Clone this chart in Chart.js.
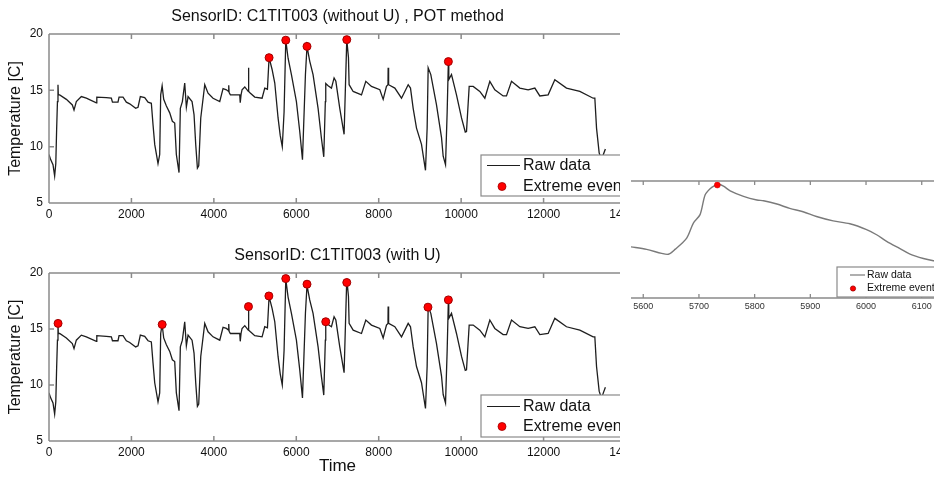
<!DOCTYPE html>
<html>
<head>
<meta charset="utf-8">
<script src="https://cdn.jsdelivr.net/npm/chart.js@4.4.1/dist/chart.umd.min.js"></script>
<style>
  body { margin: 0; background: #fff; width: 934px; height: 477px; position: relative; overflow: hidden; }
  .recorte { position: absolute; overflow: hidden; }
  canvas { position: absolute; left: 0; top: 0; }
</style>
</head>
<body>
<div class="recorte" style="left:0;top:0;width:620px;height:232px"><canvas id="graficoSemU" width="660" height="230"></canvas></div>
<div class="recorte" style="left:0;top:235px;width:620px;height:242px"><canvas id="graficoComU" width="660" height="242"></canvas></div>
<div class="recorte" style="left:625px;top:165px;width:309px;height:150px"><canvas id="graficoZoom" width="330" height="150"></canvas></div>
<script>
// --- dados brutos: tempo x temperatura ---
const tempo = [0, 40, 97, 137, 165, 185, 205, 218, 226, 259, 421, 566, 607, 663, 785, 906, 1149, 1160, 1391, 1513,
  1540, 1674, 1700, 1796, 1877, 1958, 2103, 2160, 2216, 2322, 2403, 2483, 2524, 2565, 2645, 2686, 2710, 2745, 2783, 2848,
  2929, 2993, 3050, 3090, 3155, 3187, 3236, 3293, 3333, 3374, 3471, 3519, 3560, 3601, 3633, 3682, 3779, 3859, 3980, 4143,
  4223, 4305, 4355, 4361, 4370, 4401, 4628, 4640, 4660, 4684, 4750, 4835, 4840, 4848, 4887, 4992, 5170, 5235, 5300, 5340,
  5413, 5478, 5558, 5610, 5660, 5704, 5745, 5801, 5882, 6003, 6084, 6150, 6222, 6260, 6326, 6407, 6529, 6610, 6667, 6705,
  6715, 6772, 6853, 6917, 6960, 7055, 7160, 7225, 7266, 7282, 7380, 7582, 7687, 7824, 8027, 8108, 8188, 8225, 8229, 8240,
  8391, 8553, 8715, 8771, 8836, 8917, 9038, 9135, 9175, 9200, 9264, 9402, 9524, 9564, 9621, 9661, 9690, 9700, 9766, 9887,
  10009, 10100, 10130, 10195, 10292, 10453, 10575, 10696, 10817, 11019, 11100, 11222, 11424, 11626, 11788, 11909, 12111, 12273, 12556, 12880,
  13203, 13244, 13285, 13349, 13406, 13450, 13500];
const temperatura = [9.3, 8.85, 8.4, 7.4, 8.5, 11.5, 14.0, 15.5, 14.6, 14.6, 14.2, 13.7, 13.25, 14.0, 14.45, 14.3, 13.9, 14.4, 14.35, 14.3,
  13.95, 13.95, 14.4, 14.4, 13.95, 13.8, 13.4, 13.5, 14.45, 14.35, 13.95, 13.85, 11.95, 10.2, 8.5, 9.3, 14.6, 15.4, 14.2, 13.6,
  13.0, 12.25, 12.1, 9.3, 7.7, 13.4, 14.0, 15.65, 13.5, 14.45, 14.0, 12.85, 10.2, 8.1, 8.3, 12.55, 15.5, 14.75, 14.3, 14.0,
  15.15, 15.05, 14.9, 15.45, 14.8, 14.6, 14.6, 13.9, 14.6, 15.05, 15.3, 14.9, 17.0, 14.9, 14.75, 14.4, 14.3, 15.2, 15.1, 17.9,
  16.85, 15.65, 12.55, 11.0, 10.0, 13.1, 19.45, 17.85, 16.4, 14.0, 11.35, 8.85, 16.4, 18.9, 17.6, 16.4, 13.4, 10.75, 9.1, 14.0,
  15.6, 15.4, 15.2, 16.1, 15.8, 13.4, 11.1, 19.5, 17.9, 15.5, 14.9, 14.6, 15.8, 15.35, 15.05, 14.2, 15.35, 15.5, 17.0, 15.5,
  15.2, 14.3, 15.5, 15.2, 13.4, 11.65, 10.2, 7.9, 11.65, 17.0, 16.4, 13.7, 10.8, 9.15, 8.4, 13.1, 17.55, 15.95, 16.4, 14.6,
  12.55, 11.3, 11.35, 15.35, 15.35, 14.9, 14.3, 15.8, 15.05, 14.5, 14.5, 15.8, 15.2, 15.05, 15.2, 14.5, 14.6, 15.95, 15.2, 14.9,
  14.3, 14.3, 11.65, 9.45, 8.8, 9.3, 9.8];

// --- eventos extremos (sem U / com U) ---
const tempoEventosSemU = [5340, 5745, 6260, 7225, 9690];
const tempEventosSemU = [17.9, 19.45, 18.9, 19.5, 17.55];
const tempoEventosComU = [220, 2746, 4840, 5335, 5745, 6260, 6715, 7225, 9195, 9690];
const tempEventosComU = [15.5, 15.4, 17.0, 17.95, 19.5, 19.0, 15.65, 19.15, 16.95, 17.6];

// --- detalhe ampliado (5580 a 6130) ---
const tempoZoom = [5577, 5606, 5633, 5645, 5657, 5678, 5690, 5702, 5711, 5720, 5729, 5735, 5744, 5756, 5780, 5804, 5816, 5840, 5863, 5887,
  5911, 5941, 5971, 6001, 6019, 6037, 6061, 6079, 6103, 6121, 6135];
const tempZoom = [11.0, 10.65, 10.1, 9.98, 10.65, 12.2, 14.25, 15.4, 18.1, 18.95, 19.4, 19.55, 19.3, 18.65, 17.9, 17.4, 17.3, 16.85, 16.25, 15.8,
  15.15, 14.55, 14.15, 13.35, 12.65, 11.75, 10.75, 10.0, 9.4, 9.1, 8.95];
const tempoEventoZoom = [5733];
const tempEventoZoom = [19.45];

const rotulosLegenda = ['Raw data', 'Extreme event'];
const fonte = "'Liberation Sans', Arial, sans-serif";

function pontos(xs, ys) {
  return xs.map((x, i) => ({ x: x, y: ys[i] }));
}

// moldura estilo MATLAB: caixa, ticks para dentro, título e legenda
const moldura = {
  id: 'moldura',
  afterDraw(chart, args, o) {
    const ctx = chart.ctx, a = chart.chartArea, sx = chart.scales.x, sy = chart.scales.y;
    ctx.save();
    ctx.strokeStyle = o.cor;
    ctx.lineWidth = o.espessura;
    ctx.beginPath();
    if (o.lados.includes('t')) { ctx.moveTo(a.left, a.top); ctx.lineTo(a.right, a.top); }
    if (o.lados.includes('b')) { ctx.moveTo(a.left, a.bottom); ctx.lineTo(a.right, a.bottom); }
    if (o.lados.includes('l')) { ctx.moveTo(a.left, a.top); ctx.lineTo(a.left, a.bottom); }
    if (o.lados.includes('r')) { ctx.moveTo(a.right, a.top); ctx.lineTo(a.right, a.bottom); }
    sx.ticks.forEach(t => {
      const px = sx.getPixelForValue(t.value);
      ctx.moveTo(px, a.top); ctx.lineTo(px, a.top + o.tick);
      ctx.moveTo(px, a.bottom); ctx.lineTo(px, a.bottom - o.tick);
    });
    if (o.lados.includes('l')) {
      sy.ticks.forEach(t => {
        const py = sy.getPixelForValue(t.value);
        ctx.moveTo(a.left, py); ctx.lineTo(a.left + o.tick, py);
        ctx.moveTo(a.right, py); ctx.lineTo(a.right - o.tick, py);
      });
    }
    ctx.stroke();

    if (o.titulo) {
      ctx.fillStyle = '#111';
      ctx.font = '16px ' + fonte;
      ctx.textAlign = 'center';
      ctx.textBaseline = 'middle';
      ctx.fillText(o.titulo, (a.left + a.right) / 2, o.tituloY);
    }

    const L = o.legenda;
    ctx.fillStyle = '#fff';
    ctx.fillRect(L.x, L.y, L.w, L.h);
    ctx.strokeStyle = o.cor;
    ctx.lineWidth = 1.2;
    ctx.strokeRect(L.x, L.y, L.w, L.h);
    ctx.strokeStyle = L.corLinha;
    ctx.lineWidth = L.larguraLinha;
    ctx.beginPath();
    ctx.moveTo(L.x1, L.y1);
    ctx.lineTo(L.x2, L.y1);
    ctx.stroke();
    ctx.beginPath();
    ctx.arc(L.xPonto, L.y2, L.raio, 0, Math.PI * 2);
    ctx.fillStyle = '#ff0000';
    ctx.fill();
    ctx.strokeStyle = '#a00000';
    ctx.lineWidth = 0.8;
    ctx.stroke();
    ctx.fillStyle = '#111';
    ctx.font = L.tamanho + 'px ' + fonte;
    ctx.textAlign = 'left';
    ctx.textBaseline = 'middle';
    ctx.fillText(rotulosLegenda[0], L.xTexto, L.y1);
    ctx.fillText(rotulosLegenda[1], L.xTexto, L.y2);
    ctx.restore();
  }
};

function graficoPrincipal(id, titulo, tituloY, topo, alturaX, evX, evY, legenda, comTempo) {
  return new Chart(document.getElementById(id), {
    type: 'line',
    data: {
      datasets: [
        { data: pontos(tempo, temperatura), borderColor: '#1e1e1e', borderWidth: 1.3, pointRadius: 0, tension: 0, order: 2 },
        { data: pontos(evX, evY), showLine: false, pointRadius: 4, pointBackgroundColor: '#ff0000',
          pointBorderColor: '#a00000', pointBorderWidth: 1, order: 1 }
      ]
    },
    options: {
      responsive: false,
      animation: false,
      layout: { padding: { top: topo, right: 34, left: 0, bottom: 0 } },
      plugins: {
        legend: { display: false },
        tooltip: { enabled: false },
        moldura: { cor: '#8a8a8a', espessura: 1.5, lados: 'tblr', tick: 5, titulo: titulo, tituloY: tituloY, legenda: legenda }
      },
      scales: {
        x: {
          type: 'linear', min: 0, max: 14000,
          ticks: { stepSize: 2000, padding: 4, color: '#111', font: { family: fonte, size: 12 }, maxRotation: 0, autoSkip: false,
            callback: v => String(v) },
          grid: { display: false, drawTicks: false },
          border: { display: false },
          title: { display: comTempo, text: 'Time', color: '#111', font: { family: fonte, size: 17 }, padding: { top: 0, bottom: 0 } },
          afterFit: s => { s.height = alturaX; }
        },
        y: {
          min: 5, max: 20,
          ticks: { stepSize: 5, padding: 6, color: '#111', font: { family: fonte, size: 12 } },
          grid: { display: false, drawTicks: false },
          border: { display: false },
          title: { display: true, text: 'Temperature [C]', color: '#111', font: { family: fonte, size: 16 }, padding: { top: 6, bottom: 0 } },
          afterFit: s => { s.width = 49; }
        }
      }
    },
    plugins: [moldura]
  });
}

// --- Sem U, método POT ---
graficoPrincipal('graficoSemU', 'SensorID: C1TIT003 (without U) , POT method', 17, 34, 27,
  tempoEventosSemU, tempEventosSemU,
  { x: 481, y: 155, w: 200, h: 41, x1: 487, x2: 520, y1: 165.5, y2: 186.5, xPonto: 502, raio: 4, xTexto: 523, tamanho: 16,
    corLinha: '#1e1e1e', larguraLinha: 1.2 }, false);

// --- Com U ---
graficoPrincipal('graficoComU', 'SensorID: C1TIT003 (with U)', 21, 38, 36,
  tempoEventosComU, tempEventosComU,
  { x: 481, y: 160, w: 200, h: 42, x1: 487, x2: 520, y1: 171.5, y2: 191.5, xPonto: 502, raio: 4, xTexto: 523, tamanho: 16,
    corLinha: '#1e1e1e', larguraLinha: 1.2 }, true);

// --- Detalhe ampliado ---
new Chart(document.getElementById('graficoZoom'), {
  type: 'line',
  data: {
    datasets: [
      { data: pontos(tempoZoom, tempZoom), borderColor: '#7a7a7a', borderWidth: 1.4, pointRadius: 0, tension: 0.3, order: 2 },
      { data: pontos(tempoEventoZoom, tempEventoZoom), showLine: false, pointRadius: 3, pointBackgroundColor: '#ff0000',
        pointBorderColor: '#cc0000', pointBorderWidth: 0.5, order: 1 }
    ]
  },
  options: {
    responsive: false,
    animation: false,
    layout: { padding: { top: 16, right: 11, left: 6, bottom: 0 } },
    plugins: {
      legend: { display: false },
      tooltip: { enabled: false },
      moldura: { cor: '#8a8a8a', espessura: 1.3, lados: 'tb', tick: 4, titulo: '',
        legenda: { x: 212, y: 102, w: 120, h: 30, x1: 225, x2: 240, y1: 110, y2: 123.5, xPonto: 228, raio: 2.6, xTexto: 242,
          tamanho: 10.5, corLinha: '#7a7a7a', larguraLinha: 1.2 } }
    },
    scales: {
      x: {
        type: 'linear', min: 5578, max: 6140,
        ticks: { stepSize: 100, includeBounds: false, padding: 3, color: '#333', font: { family: fonte, size: 9 }, maxRotation: 0,
          callback: v => String(v) },
        grid: { display: false, drawTicks: false },
        border: { display: false },
        afterFit: s => { s.height = 17; }
      },
      y: { display: false, min: 4, max: 20 }
    }
  },
  plugins: [moldura]
});
</script>
</body>
</html>
